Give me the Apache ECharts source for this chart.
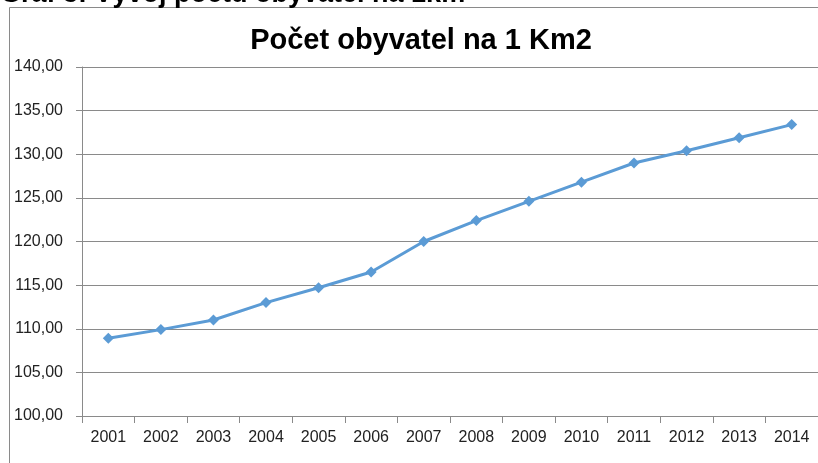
<!DOCTYPE html>
<html>
<head>
<meta charset="utf-8">
<script src="https://cdn.jsdelivr.net/npm/echarts@6/dist/echarts.min.js"></script>
<style>
    html, body { margin: 0; padding: 0; background: #fff; }
    #chart { width: 818px; height: 463px; }
</style>
</head>
<body>
<div id="chart"></div>
<script>
    // roky a hodnoty (počet obyvatel na 1 km2)
    var years = ['2001', '2002', '2003', '2004', '2005', '2006', '2007',
                 '2008', '2009', '2010', '2011', '2012', '2013', '2014'];
    var density = [108.9, 109.9, 111.0, 113.0, 114.7, 116.5, 120.0,
                   122.4, 124.6, 126.8, 129.0, 130.4, 131.9, 133.4];
    var yMin = 100, yMax = 140, yStep = 5;

    var chart = echarts.init(document.getElementById('chart'));
    var option = {
        backgroundColor: '#fff',
        animation: false,
        title: {
            text: 'Počet obyvatel na 1 Km2',
            left: 416,
            textAlign: 'center',
            top: 21,
            textStyle: {
                fontFamily: 'Liberation Sans, sans-serif',
                fontSize: 29,
                fontWeight: 'bold',
                color: '#000'
            }
        },
        graphic: [
            {
                type: 'rect',
                shape: { x: 9.5, y: 7.5, width: 900, height: 600 },
                style: { fill: 'none', stroke: '#8a8a8a', lineWidth: 1 },
                z: -1
            },
            {
                type: 'text',
                left: 0,
                top: -19,
                style: {
                    text: 'Graf 3: Vývoj počtu obyvatel na 1km',
                    font: 'bold 27px Liberation Sans, sans-serif',
                    fill: '#000'
                }
            }
        ],
        grid: {
            left: 82,
            right: -1,
            top: 67,
            bottom: 47
        },
        xAxis: {
            type: 'category',
            data: years,
            boundaryGap: true,
            axisLine: { lineStyle: { color: '#8a8a8a', width: 1 } },
            axisTick: { show: true, length: 7, lineStyle: { color: '#8a8a8a' } },
            axisLabel: {
                color: '#222',
                fontFamily: 'Liberation Sans, sans-serif',
                fontSize: 16,
                margin: 14
            },
            splitLine: { show: false }
        },
        yAxis: {
            type: 'value',
            min: yMin,
            max: yMax,
            interval: yStep,
            axisLine: { show: true, lineStyle: { color: '#8a8a8a', width: 1 } },
            axisTick: { show: true, length: 6, lineStyle: { color: '#8a8a8a' } },
            axisLabel: {
                color: '#222',
                fontFamily: 'Liberation Sans, sans-serif',
                fontSize: 16,
                margin: 19,
                formatter: function (v) {
                    return v.toFixed(2).replace('.', ',');
                }
            },
            splitLine: { show: true, lineStyle: { color: '#8a8a8a', width: 1 } }
        },
        series: [
            {
                type: 'line',
                data: density,
                symbol: 'diamond',
                symbolSize: 11,
                itemStyle: { color: '#5b9bd5' },
                lineStyle: { color: '#5b9bd5', width: 3 }
            }
        ]
    };
    chart.setOption(option);
</script>
</body>
</html>
